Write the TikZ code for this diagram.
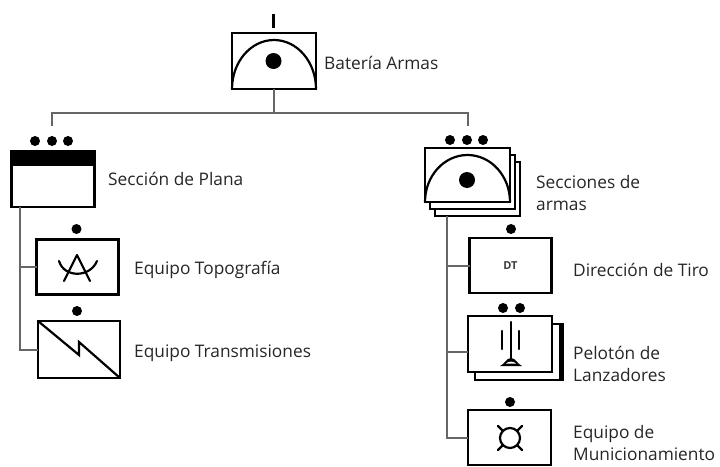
\documentclass[tikz,border=0pt]{standalone}
\usepackage{fontspec}
\setmainfont{Open Sans}
\tikzset{
	unitbox/.style = {draw, line width = 2.6pt, fill = white, minimum width = 82pt, minimum height = 55pt, inner sep = 0pt, outer sep = 0pt},
	unitlabel/.style = {anchor = west, inner sep = 0pt, align = left, font = \fontsize{17.3}{22}\selectfont, text = black!85},
	conn/.style = {line width = 2pt, color = black!60},
	symb/.style = {line width = 2.2pt, line cap = round},
	dot/.style = {fill = black}
}
\begin{document}
\begin{tikzpicture}[x = 1pt, y = -1pt]
	\useasboundingbox (0,0) rectangle (720,466);
	% bateria
	\node[unitbox, minimum width = 84pt, minimum height = 56pt] (bateria) at (274,61) {};
	\node[unitlabel] (labelBateria) at (324,63) {Batería Armas};
	\coordinate (topTick) at (273.5,14);
	\coordinate (topTickEnd) at (273.5,28);
	\draw[line width = 2.4pt] (topTick) -- (topTickEnd);
	\draw[symb] (bateria.south west) arc (180:360:42 and 49);
	\fill[dot] (273.5,61) circle (8);
	% seccion de plana
	\node[unitbox, minimum width = 83pt, minimum height = 56pt] (plana) at (53,179) {};
	\fill (plana.north west) rectangle (95,166);
	\foreach \x in {35,52,68} \fill[dot] (\x,141) circle (5);
	\node[unitlabel] (labelPlana) at (108,179) {Sección de Plana};
	% equipos de plana
	\node[unitbox] (topo) at (77.5,267) {};
	\fill[dot] (76.5,229) circle (5);
	\draw[symb] (77,255) -- (64,281) (77,255) -- (90,281);
	\draw[symb] (59,261) .. controls (64,278) and (90,278) .. (97,261);
	\node[unitlabel] (labelTopo) at (134,270) {Equipo Topografía};
	\node[unitbox, minimum height = 57pt] (transm) at (79,349.5) {};
	\fill[dot] (77,311) circle (5);
	\draw[symb, line join = miter] (transm.north west) -- (79,355) -- (79,342) -- (transm.south east);
	\node[unitlabel] (labelTransm) at (134,353) {Equipo Transmisiones};
	% secciones de armas
	\node[unitbox, minimum width = 85pt, minimum height = 54pt] (armasC) at (477.5,189) {};
	\node[unitbox, minimum width = 85pt, minimum height = 54pt] (armasB) at (472.5,182) {};
	\node[unitbox, minimum width = 85pt, minimum height = 54pt] (armasA) at (467.5,175) {};
	\draw[symb] (armasA.south west) arc (180:360:42.5 and 47);
	\fill[dot] (467,180) circle (8);
	\foreach \x in {450,467,483} \fill[dot] (\x,140) circle (5);
	\node[unitlabel] (labelArmas) at (536,193) {Secciones de\\armas};
	% equipos de armas
	\node[unitbox] (tiro) at (510.5,265.5) {};
	\fill[dot] (511,229) circle (5);
	\node[inner sep = 0pt, font = \fontsize{11}{11}\selectfont\bfseries, text = black!75] (textTiro) at (tiro) {DT};
	\node[unitlabel] (labelTiro) at (573,270) {Dirección de Tiro};
	\node[unitbox, minimum width = 88pt, minimum height = 56pt] (lanzB) at (519,352) {};
	\draw[line width = 4.5pt] (561.5,324) -- (561.5,380);
	\node[unitbox, minimum width = 84pt, minimum height = 56pt] (lanz) at (510,344) {};
	\foreach \x in {503,520} \fill[dot] (\x,308) circle (5);
	\draw[symb] (511,322) -- (511,362) (502,331) -- (502,349) (519,331) -- (519,349);
	\fill (500,366) .. controls (505,364) and (506,358) .. (511,358) .. controls (516,358) and (517,364) .. (522,366) -- cycle;
	\fill[white] (506,363.5) .. controls (508,361) and (514,361) .. (516,363.5) -- cycle;
	\node[unitlabel] (labelLanz) at (573,364) {Pelotón de\\Lanzadores};
	\node[unitbox, minimum width = 83pt] (munic) at (509.5,437.5) {};
	\fill[dot] (510,402) circle (5);
	\draw[symb] (510,438) circle (10);
	\foreach \sx in {-1,1} \foreach \sy in {-1,1}
		\draw[symb] (510 + 7*\sx, 438 + 7*\sy) -- (510 + 12*\sx, 438 + 12*\sy);
	\node[unitlabel] (labelMunic) at (573,443.5) {Equipo de\\Municionamiento};
	% conectores
	\coordinate (trunkL) at (19.5,207);
	\coordinate (trunkR) at (447,216);
	\coordinate (busL) at (52,113);
	\coordinate (busR) at (472,113);
	\coordinate (dropL) at (52,126);
	\coordinate (dropR) at (468,126);
	\draw[conn] (bateria.south) -- (bateria.south |- busL);
	\draw[conn] (dropL) -- (dropL |- busL) -- (dropR |- busR) -- (dropR);
	\draw[conn] (trunkL) |- (transm.west);
	\draw[conn] (trunkL |- topo.west) -- (topo.west);
	\draw[conn] (trunkR) |- (munic.west);
	\draw[conn] (trunkR |- tiro.west) -- (tiro.west);
	\draw[conn] (trunkR |- lanz.west) ++(0,8) -- (lanz.west |- 0,352);
\end{tikzpicture}
\end{document}
